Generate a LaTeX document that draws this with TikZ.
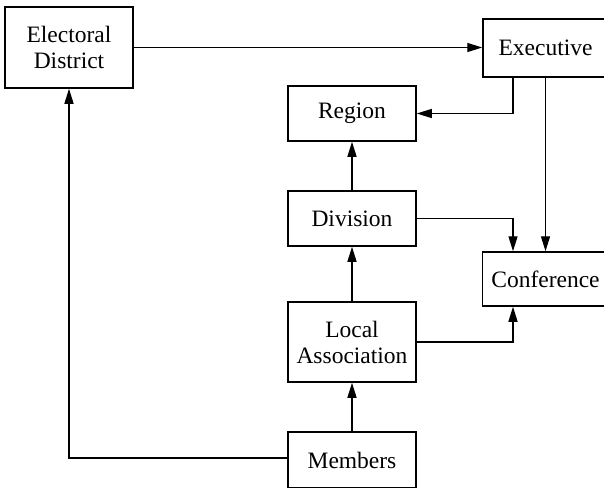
\documentclass[tikz,border=0pt]{standalone}
\usepackage{fontspec}
\setmainfont{Liberation Serif}
\usepackage{tikz}
\usetikzlibrary{positioning, arrows.meta}
\tikzset{
    org_box/.style={
        draw=black,
        line width=1.5pt,
        rectangle,
        align=center,
        inner sep=0pt,
        font=\fontsize{23.5}{26}\selectfont
    },
    org_edge/.style={
        -{Triangle[length=15pt,width=9pt]},
        line width=1.4pt,
        draw=black
    }
}

\begin{document}
\begin{tikzpicture}[x=1pt, y=-1pt]
    \useasboundingbox (0,0) rectangle (604,487);

    \node[org_box, minimum width=128pt, minimum height=81pt] (district) at (69,47.5) {Electoral\\District};
    \node[org_box, minimum width=125pt, minimum height=58pt] (exec) at (545.5,48) {Executive};
    \node[org_box, minimum width=128pt, minimum height=55pt] (region) at (352,113.5) {Region};
    \node[org_box, minimum width=128pt, minimum height=55pt] (division) at (352,218.5) {Division};
    \node[org_box, minimum width=126pt, minimum height=54pt] (conf) at (545.5,279) {Conference};
    \node[org_box, minimum width=128pt, minimum height=80pt] (local) at (352,342) {Local\\Association};
    \node[org_box, minimum width=128pt, minimum height=56pt] (members) at (352,460) {Members};

    \draw[org_edge] (district.east) -- (exec.west |- district.east);
    \draw[org_edge] ([xshift=-32.5pt]exec.south) |- (region.east);
    \draw[org_edge] (exec.south) -- (conf.north);
    \draw[org_edge] (division.north) -- (region.south);
    \draw[org_edge] (division.east) -| ([xshift=-32.5pt]conf.north);
    \draw[org_edge] (local.north) -- (division.south);
    \draw[org_edge] (local.east) -| ([xshift=-32.5pt]conf.south);
    \draw[org_edge] (members.north) -- (local.south);
    \draw[org_edge] ([yshift=2pt]members.west) -| (district.south);
\end{tikzpicture}
\end{document}
